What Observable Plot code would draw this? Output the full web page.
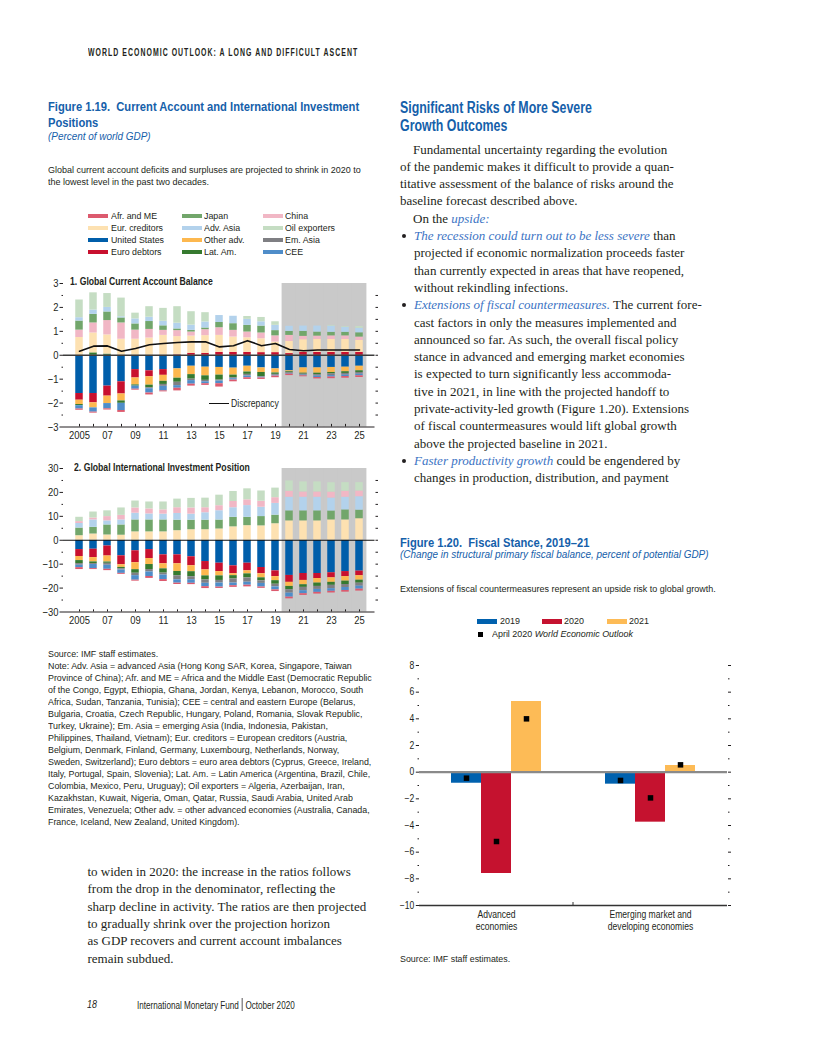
<!DOCTYPE html>
<html><head><meta charset="utf-8">
<script src="https://cdn.jsdelivr.net/npm/d3@7"></script>
<script src="https://cdn.jsdelivr.net/npm/@observablehq/plot@0.6"></script>
<style>
html,body{margin:0;padding:0;background:#fff;}
#page{position:relative;width:816px;height:1056px;overflow:hidden;background:#fff;}
.ln{position:absolute;white-space:nowrap;transform-origin:0 50%;}
.sans{font-family:"Liberation Sans",Arial,sans-serif;color:#231f20;}
.serif{font-family:"Liberation Serif","Times New Roman",serif;font-size:13px;color:#231f20;}
.blue{color:#1560aa;}
.ibl{color:#3c74c4;font-style:italic;}
.bul{position:absolute;left:-12px;top:50%;width:4.2px;height:4.2px;margin-top:-2.3px;border-radius:50%;background:#231f20;}
.sw{position:absolute;height:4px;width:20px;}
.chart{position:absolute;}
</style></head>
<body><div id="page"></div>
<script>
// ---------------- DATA ----------------
const years = [2005,2006,2007,2008,2009,2010,2011,2012,2013,2014,2015,2016,2017,2018,2019,2020,2021,2022,2023,2024,2025];
const projectionYears = [2020,2021,2022,2023,2024,2025];
const labelYears = [2005,2007,2009,2011,2013,2015,2017,2019,2021,2023,2025];

const seriesNames = ["Afr. and ME","Eur. creditors","United States","Euro debtors","Japan","Adv. Asia","Other adv.","Lat. Am.","China","Oil exporters","Em. Asia","CEE"];
const seriesColors = ["#dc5a6e","#fde1b1","#005eaa","#c8102e","#72a66b","#b3d2ec","#fdb84f","#367a2f","#f1b7c5","#c5ddc3","#7f7f83","#4f8dc9"];

// Panel 1: Global current account balance (percent of world GDP)
const caUS          = [-1.60,-1.60,-1.29,-1.11,-0.60,-0.65,-0.60,-0.57,-0.46,-0.50,-0.51,-0.54,-0.46,-0.53,-0.57,-0.65,-0.53,-0.53,-0.51,-0.50,-0.46];
const caEuroDebtors = [-0.28,-0.39,-0.42,-0.51,-0.35,-0.25,-0.24,0.02,0.08,0.08,0.12,0.12,0.12,0.11,0.11,0.07,0.12,0.12,0.12,0.12,0.12];
const caOtherAdv    = [-0.18,-0.21,-0.31,-0.29,-0.29,-0.35,-0.25,-0.39,-0.35,-0.36,-0.32,-0.29,-0.24,-0.19,-0.17,-0.04,-0.22,-0.22,-0.21,-0.19,-0.19];
const caLatAm       = [-0.05,0.10,0.05,-0.10,-0.05,-0.11,-0.13,-0.17,-0.19,-0.19,-0.21,-0.11,-0.10,-0.17,-0.06,-0.04,-0.04,-0.06,-0.06,-0.07,-0.07];
const caEmAsia      = [0,0,0,0,0,-0.04,-0.08,-0.14,-0.06,-0.06,-0.04,-0.04,-0.07,-0.03,-0.04,-0.03,-0.04,-0.06,-0.07,-0.07,-0.07];
const caCEE         = [-0.14,-0.18,-0.22,-0.30,-0.13,-0.18,-0.19,-0.11,-0.15,-0.08,-0.11,-0.06,-0.07,-0.03,-0.03,-0.03,-0.03,-0.06,-0.06,-0.06,-0.07];
const caAfrME       = [-0.05,-0.04,-0.05,-0.08,-0.04,-0.08,-0.04,-0.11,-0.08,-0.07,-0.14,-0.07,-0.07,-0.06,-0.07,-0.06,-0.04,-0.06,-0.07,-0.07,-0.07];
const caEurCreditors= [0.74,0.83,0.80,0.67,0.67,0.72,0.83,0.76,0.72,0.74,0.71,0.64,0.61,0.58,0.44,0.51,0.53,0.54,0.54,0.54,0.50];
const caChina       = [0.31,0.42,0.60,0.68,0.38,0.36,0.21,0.25,0.17,0.25,0.32,0.28,0.24,0.24,0.26,0.25,0.14,0.14,0.15,0.15,0.14];
const caJapan       = [0.38,0.36,0.36,0.21,0.26,0.33,0.19,0.07,0.07,0.07,0.22,0.28,0.28,0.29,0.22,0.17,0.21,0.17,0.15,0.15,0.18];
const caAdvAsia     = [0.14,0.18,0.19,0.05,0.21,0.18,0.19,0.24,0.22,0.25,0.29,0.31,0.25,0.18,0.22,0.21,0.22,0.25,0.26,0.21,0.19];
const caOil         = [0.74,0.72,0.58,0.78,0.24,0.44,0.54,0.69,0.56,0.39,0,0,0.12,0.18,0.15,0,0,0,0.03,0.03,0.07];
const caDiscrepancy = [0.17,0.38,0.39,0.17,0.28,0.44,0.49,0.53,0.56,0.56,0.35,0.40,0.61,0.40,0.49,0.24,0.19,0.22,0.22,0.22,0.22];

// Panel 2: Global international investment position (percent of world GDP)
const iipUS          = [-3.9,-3.75,-2.4,-6.5,-4.4,-3.9,-6.1,-6.1,-6.9,-8.9,-9.6,-10.7,-9.6,-11.4,-12.8,-14.7,-13.9,-13.9,-13.6,-13.1,-12.9];
const iipEuroDebtors = [-2.9,-3.5,-4.2,-3.75,-5.0,-3.75,-3.75,-3.75,-3.75,-3.5,-3.5,-3.3,-3.2,-2.6,-2.4,-2.9,-2.9,-2.1,-2.1,-2.1,-1.9];
const iipOtherAdv    = [-1.7,-1.8,-2.5,-1.1,-2.9,-2.5,-2.1,-3.2,-2.5,-2.5,-1.8,-0.8,-1.25,-1.7,-1.7,-1.7,-1.8,-1.9,-1.9,-1.9,-1.9];
const iipLatAm       = [-1.25,-0.7,-0.55,-0.55,-1.5,-2.1,-1.8,-1.8,-2.1,-1.7,-1.9,-1.4,-1.7,-1.25,-1.5,-1.4,-1.1,-1.4,-1.25,-1.4,-1.25];
const iipEmAsia      = [-0.7,-0.4,-0.8,-0.55,-1.0,-1.0,-0.8,-1.7,-1.25,-1.4,-1.1,-1.7,-1.8,-1.1,-1.1,-1.4,-1.4,-1.25,-1.4,-1.25,-1.25];
const iipCEE         = [-1.0,-1.7,-1.7,-1.4,-1.9,-1.9,-1.9,-1.4,-1.5,-1.4,-1.7,-1.1,-1.25,-1.5,-1.25,-1.7,-1.25,-1.25,-1.1,-1.25,-1.25];
const iipAfrME       = [-0.8,-0.4,-0.55,-0.4,-0.4,-0.8,-0.8,-0.55,-0.55,-0.8,-0.55,-0.7,-0.7,-0.55,-0.7,-0.7,-0.7,-0.7,-0.7,-0.7,-0.8];
const iipEurCreditors= [1.9,2.6,2.2,2.1,3.5,3.5,3.5,4.0,4.4,4.4,4.7,5.6,6.1,6.0,6.9,8.1,8.1,8.1,8.5,8.5,9.0];
const iipJapan       = [3.2,2.8,4.2,4.3,5.0,5.0,5.0,4.4,4.0,4.0,3.75,4.0,3.5,3.9,3.6,4.2,4.2,4.2,3.75,4.2,3.6];
const iipAdvAsia     = [1.9,3.1,1.7,2.1,2.8,2.5,2.4,2.8,2.5,3.1,3.9,4.0,4.9,3.9,4.9,5.7,5.7,5.7,5.4,5.3,5.6];
const iipChina       = [0.8,0.8,1.8,1.9,2.2,2.1,1.8,2.4,2.6,2.1,2.1,2.6,2.4,2.5,2.4,2.5,2.2,2.2,2.5,2.5,2.4];
const iipOil         = [1.8,2.5,2.4,3.1,2.9,2.9,3.3,3.6,4.0,4.0,4.4,4.2,4.6,4.3,4.0,4.3,4.2,4.2,3.9,3.6,3.5];

// Figure 1.20: change in structural primary fiscal balance
const fsCategories = ["Advanced economies","Emerging market and developing economies"];
const fsCategoryLabels = ["Advanced\neconomies","Emerging market and\ndeveloping economies"];
const fsYears = ["2019","2020","2021"];
const fsColors = ["#0061ae","#c5122f","#fdbb56"];
const fsAdvanced = [-0.83,-7.6,5.3];
const fsEmerging = [-0.9,-3.75,0.5];
const weoAdvanced = [-0.45,-5.2,4.0];
const weoEmerging = [-0.62,-1.93,0.55];

// ---------------- BUILD ----------------
const SANS = '"Liberation Sans",Arial,sans-serif';
const page = document.getElementById("page");
const groups = {};
function addLine(html, x, yc, cls, lh, style, group){
  const d = document.createElement("div");
  d.className = "ln " + cls;
  d.style.left = x + "px";
  d.style.top = (yc - lh/2) + "px";
  d.style.lineHeight = lh + "px";
  if (style) d.style.cssText += style;
  d.innerHTML = html;
  page.appendChild(d);
  if (group) (groups[group] = groups[group] || []).push(d);
  return d;
}
// horizontally condense a group of lines so that its reference line has the target width
function fitGroup(name, refIndex, target){
  const els = groups[name]; if (!els) return;
  const w = els[refIndex].offsetWidth;
  const k = target / w;
  els.forEach(e => e.style.transform = `scaleX(${k})`);
}
const fmtNum = d => d < 0 ? "\u2212" + Math.abs(d) : String(d);
function colorOf(name){ return seriesColors[seriesNames.indexOf(name)]; }
function narrowSvgText(svg, k){
  d3.select(svg).selectAll("text").each(function(){
    const t = this.getAttribute("transform");
    if (t) this.setAttribute("transform", t + ` scale(${k},1)`);
    else {
      const x = +this.getAttribute("x") || 0, y = +this.getAttribute("y") || 0;
      this.setAttribute("x", 0); this.setAttribute("y", 0);
      this.setAttribute("transform", `translate(${x},${y}) scale(${k},1)`);
    }
  });
}

// header
addLine("WORLD ECONOMIC OUTLOOK: A LONG AND DIFFICULT ASCENT", 88, 53, "sans", 12, "font-size:10px;font-weight:bold;letter-spacing:1.5px;", "hdr");

// Figure 1.19 title block
addLine("Figure 1.19.&nbsp; Current Account and International Investment", 48, 106, "sans blue", 15, "font-size:13px;font-weight:bold;", "ftitle");
addLine("Positions", 48, 122, "sans blue", 15, "font-size:13px;font-weight:bold;", "ftitle");
addLine("(Percent of world GDP)", 48, 137, "sans blue", 12, "font-size:10.2px;font-style:italic;", "fsub");
addLine("Global current account deficits and surpluses are projected to shrink in 2020 to", 48, 169.5, "sans", 12, "font-size:9.6px;", "body");
addLine("the lowest level in the past two decades.", 48, 181.5, "sans", 12, "font-size:9.6px;", "body");

// legend
const legendCols = [["Afr. and ME","Eur. creditors","United States","Euro debtors"],["Japan","Adv. Asia","Other adv.","Lat. Am."],["China","Oil exporters","Em. Asia","CEE"]];
const legSwX = [88.3,181.7,262.7], legTxX = [110.5,203.5,285], legY = [216,228.2,240.3,252.3];
legendCols.forEach((col,ci)=>col.forEach((name,ri)=>{
  const s = document.createElement("div"); s.className="sw";
  s.style.left = legSwX[ci]+"px"; s.style.top=(legY[ri]-2)+"px"; s.style.background=colorOf(name);
  page.appendChild(s);
  addLine(name, legTxX[ci], legY[ri], "sans", 12, "font-size:9.6px;", "leg");
}));

function tidy(pairs){
  return pairs.flatMap(([name, vals]) => vals.map((v,i)=>({year: years[i], series: name, value: v})));
}
const caData = tidy([["United States",caUS],["Euro debtors",caEuroDebtors],["Other adv.",caOtherAdv],["Lat. Am.",caLatAm],["Em. Asia",caEmAsia],["CEE",caCEE],["Afr. and ME",caAfrME],["Eur. creditors",caEurCreditors],["China",caChina],["Japan",caJapan],["Adv. Asia",caAdvAsia],["Oil exporters",caOil]]);
const caOrder = ["United States","Euro debtors","Other adv.","Lat. Am.","Em. Asia","CEE","Afr. and ME","Eur. creditors","China","Japan","Adv. Asia","Oil exporters"];
const iipData = tidy([["United States",iipUS],["Euro debtors",iipEuroDebtors],["Other adv.",iipOtherAdv],["Lat. Am.",iipLatAm],["Em. Asia",iipEmAsia],["CEE",iipCEE],["Afr. and ME",iipAfrME],["Eur. creditors",iipEurCreditors],["Japan",iipJapan],["Adv. Asia",iipAdvAsia],["China",iipChina],["Oil exporters",iipOil]]);
const iipOrder = ["United States","Euro debtors","Other adv.","Lat. Am.","Em. Asia","CEE","Afr. and ME","Eur. creditors","Japan","Adv. Asia","China","Oil exporters"];
const discData = years.map((y,i)=>({year:y, value: caDiscrepancy[i]}));
const yearFmt = y => y === 2005 ? "2005" : String(y).slice(2);
const blank = () => "";

function panel({data, order, lo, hi, major, minorLeft, minorRight, zeroStroke, zeroWidth, tickUp, extra}){
  return Plot.plot({
    width: 345, height: 175,
    marginLeft: 23, marginRight: 10.5, marginTop: 7, marginBottom: 24.5,
    style: {fontFamily: SANS, fontSize: "11px", background: "transparent", overflow: "visible", color: "#231f20"},
    x: {type: "band", domain: years, padding: 0, axis: null, label: null},
    y: {domain: [lo, hi], axis: null, label: null},
    color: {domain: seriesNames, range: seriesColors},
    marks: [
      Plot.barY(projectionYears, {x: d=>d, y1: lo, y2: hi, fill: "#c9c9c9", insetLeft: -0.4, insetRight: -0.4}),
      Plot.barY(data, Plot.stackY({order}, {x: "year", y: "value", fill: "series", insetLeft: 3.25, insetRight: 3.25})),
      Plot.ruleY([0], {stroke: zeroStroke, strokeWidth: zeroWidth}),
      ...(extra || []),
      Plot.ruleY([lo], {stroke: "#231f20", strokeWidth: 1}),
      Plot.ruleX(years, {x: d=>d, y1: lo, y2: lo + tickUp, stroke: "#231f20"}),
      Plot.axisX({ticks: labelYears, tickSize: 0, tickPadding: 3.5, tickFormat: yearFmt, fontSize: 11.5, label: null}),
      Plot.axisY({ticks: major, tickSize: 3.5, tickPadding: 1.5, tickFormat: fmtNum, fontSize: 11.5, label: null}),
      Plot.axisY({ticks: minorLeft, tickSize: 1.5, tickFormat: blank, label: null}),
      Plot.axisY({ticks: minorRight, anchor: "right", tickSize: 2.5, tickFormat: blank, label: null})
    ]
  });
}

const ca = panel({
  data: caData, order: caOrder, lo: -3, hi: 3,
  major: [-3,-2,-1,0,1,2,3], minorLeft: [-2.5,-1.5,-0.5,0.5,1.5,2.5],
  minorRight: [-2.5,-2,-1.5,-1,-0.5,0,0.5,1,1.5,2,2.5],
  zeroStroke: "#3c3c3c", zeroWidth: 1.6, tickUp: 0.11,
  extra: [Plot.line(discData, {x: "year", y: "value", stroke: "#111", strokeWidth: 1.6})]
});
narrowSvgText(ca, 0.82);
const c1 = document.createElement("div"); c1.className="chart"; c1.style.left="40px"; c1.style.top="276px"; c1.appendChild(ca); page.appendChild(c1);

const iip = panel({
  data: iipData, order: iipOrder, lo: -30, hi: 30,
  major: [-30,-20,-10,0,10,20,30], minorLeft: [-25,-15,-5,5,15,25],
  minorRight: [-25,-20,-15,-10,-5,0,5,10,15,20,25],
  zeroStroke: "#111", zeroWidth: 1.1, tickUp: 0.9
});
narrowSvgText(iip, 0.82);
const c2 = document.createElement("div"); c2.className="chart"; c2.style.left="40px"; c2.style.top="461.3px"; c2.appendChild(iip); page.appendChild(c2);

// panel titles and discrepancy legend
addLine("1. Global Current Account Balance", 70, 282.3, "sans", 12, "font-size:10px;font-weight:bold;", "ptitle");
addLine("2. Global International Investment Position", 74, 468.3, "sans", 12, "font-size:10px;font-weight:bold;", "ptitle");
const dl = document.createElement("div"); dl.style.cssText="position:absolute;left:209px;top:402.5px;width:20px;height:1.6px;background:#111;"; page.appendChild(dl);
addLine("Discrepancy", 231, 403.3, "sans", 12, "font-size:10.5px;", "disc");

// notes
const noteLines = [
"Source: IMF staff estimates.",
"Note: Adv. Asia = advanced Asia (Hong Kong SAR, Korea, Singapore, Taiwan",
"Province of China); Afr. and ME = Africa and the Middle East (Democratic Republic",
"of the Congo, Egypt, Ethiopia, Ghana, Jordan, Kenya, Lebanon, Morocco, South",
"Africa, Sudan, Tanzania, Tunisia); CEE = central and eastern Europe (Belarus,",
"Bulgaria, Croatia, Czech Republic, Hungary, Poland, Romania, Slovak Republic,",
"Turkey, Ukraine); Em. Asia = emerging Asia (India, Indonesia, Pakistan,",
"Philippines, Thailand, Vietnam); Eur. creditors = European creditors (Austria,",
"Belgium, Denmark, Finland, Germany, Luxembourg, Netherlands, Norway,",
"Sweden, Switzerland); Euro debtors = euro area debtors (Cyprus, Greece, Ireland,",
"Italy, Portugal, Spain, Slovenia); Lat. Am. = Latin America (Argentina, Brazil, Chile,",
"Colombia, Mexico, Peru, Uruguay); Oil exporters = Algeria, Azerbaijan, Iran,",
"Kazakhstan, Kuwait, Nigeria, Oman, Qatar, Russia, Saudi Arabia, United Arab",
"Emirates, Venezuela; Other adv. = other advanced economies (Australia, Canada,",
"France, Iceland, New Zealand, United Kingdom)."];
noteLines.forEach((t,i)=>addLine(t, 48, 654 + i*11.99, "sans", 12, "font-size:9.3px;", "note"));

// bottom-left body text
const leftBody = [
"to widen in 2020: the increase in the ratios follows",
"from the drop in the denominator, reflecting the",
"sharp decline in activity. The ratios are then projected",
"to gradually shrink over the projection horizon",
"as GDP recovers and current account imbalances",
"remain subdued."];
leftBody.forEach((t,i)=>addLine(t, 87.5, 872 + i*17.35, "serif", 16));

// footer
addLine("18", 87, 1004, "sans", 12, "font-size:10.5px;font-style:italic;transform:scaleX(0.85);");
addLine('International Monetary Fund <span style="display:inline-block;width:1.8px;height:13px;background:#231f20;vertical-align:-2.5px;margin:0 0.5px;"></span> October 2020', 136.5, 1004, "sans", 12, "font-size:10.8px;", "foot");

// right column
addLine("Significant Risks of More Severe", 400, 108, "sans blue", 18, "font-size:15.8px;font-weight:bold;", "head");
addLine("Growth Outcomes", 400, 125.5, "sans blue", 18, "font-size:15.8px;font-weight:bold;", "head");
const B = '<span class="bul"></span>';
const rightBody = [
 [413, "Fundamental uncertainty regarding the evolution"],
 [400, "of the pandemic makes it difficult to provide a quan-"],
 [400, "titative assessment of the balance of risks around the"],
 [400, "baseline forecast described above."],
 [413, 'On the <span class="ibl">upside:</span>'],
 [414, B + '<span class="ibl">The recession could turn out to be less severe</span> than'],
 [414, "projected if economic normalization proceeds faster"],
 [414, "than currently expected in areas that have reopened,"],
 [414, "without rekindling infections."],
 [414, B + '<span class="ibl">Extensions of fiscal countermeasures.</span> The current fore-'],
 [414, "cast factors in only the measures implemented and"],
 [414, "announced so far. As such, the overall fiscal policy"],
 [414, "stance in advanced and emerging market economies"],
 [414, "is expected to turn significantly less accommoda-"],
 [414, "tive in 2021, in line with the projected handoff to"],
 [414, "private-activity-led growth (Figure 1.20). Extensions"],
 [414, "of fiscal countermeasures would lift global growth"],
 [414, "above the projected baseline in 2021."],
 [414, B + '<span class="ibl">Faster productivity growth</span> could be engendered by'],
 [414, "changes in production, distribution, and payment"]];
rightBody.forEach(([x,t],i)=>addLine(t, x, 149.5 + i*17.3, "serif", 16));

// Figure 1.20 text
addLine("Figure 1.20.&nbsp; Fiscal Stance, 2019&#8211;21", 400, 543, "sans blue", 14, "font-size:13px;font-weight:bold;", "ftitle");
addLine("(Change in structural primary fiscal balance, percent of potential GDP)", 400, 554.5, "sans blue", 12, "font-size:10.2px;font-style:italic;", "fsub");
addLine("Extensions of fiscal countermeasures represent an upside risk to global growth.", 400, 588.5, "sans", 12, "font-size:9.6px;", "body");
// legend 1.20
const fsLegSw = [477,542,607], fsLegTx = [499.5,563.5,628.5];
fsYears.forEach((y,i)=>{
  const s=document.createElement("div"); s.className="sw"; s.style.left=fsLegSw[i]+"px"; s.style.top="619px"; s.style.height="4.5px"; s.style.background=fsColors[i]; page.appendChild(s);
  addLine(y, fsLegTx[i], 621.3, "sans", 12, "font-size:9.9px;", "fleg");
});
const sq=document.createElement("div"); sq.style.cssText="position:absolute;left:478px;top:631.5px;width:5.3px;height:5.3px;background:#000;"; page.appendChild(sq);
addLine('April 2020 <i>World Economic Outlook</i>', 492, 634.3, "sans", 12, "font-size:9.9px;", "fleg");
addLine("Source: IMF staff estimates.", 400, 958.5, "sans", 12, "font-size:9.3px;", "note");

// condense sans text to the reference widths
fitGroup("hdr", 0, 270);
fitGroup("ftitle", 0, 311);
fitGroup("fsub", 1, 309);
fitGroup("body", 0, 313);
fitGroup("leg", 0, 46);
fitGroup("note", 2, 324);
fitGroup("ptitle", 0, 143);
fitGroup("disc", 0, 48);
fitGroup("head", 0, 192);
fitGroup("foot", 0, 157.5);
fitGroup("fleg", 3, 141);

// Figure 1.20 chart
const fsData = fsCategories.flatMap((c,ci)=>fsYears.map((y,yi)=>({cat:c, year:y, value:(ci===0?fsAdvanced:fsEmerging)[yi]})));
const weoData = fsCategories.flatMap((c,ci)=>fsYears.map((y,yi)=>({cat:c, year:y, value:(ci===0?weoAdvanced:weoEmerging)[yi]})));
const fs = Plot.plot({
  width: 345, height: 290,
  marginLeft: 28, marginRight: 8, marginTop: 15, marginBottom: 35,
  style: {fontFamily: SANS, fontSize: "10px", background: "transparent", overflow: "visible", color: "#231f20"},
  fx: {domain: fsCategories, padding: 0, label: null, axis: null},
  x: {domain: fsYears, paddingInner: 0, paddingOuter: 1.03, axis: null, label: null},
  y: {domain: [-10, 8], axis: null, label: null},
  color: {domain: fsYears, range: fsColors},
  marks: [
    Plot.barY(fsData, {fx: "cat", x: "year", y: "value", fill: "year"}),
    Plot.ruleY([0], {stroke: "#8a8a8a", strokeWidth: 2.2}),
    Plot.dot(weoData, {fx: "cat", x: "year", y: "value", symbol: "square", r: 3.1, fill: "#000", stroke: null}),
    Plot.ruleY([-10], {stroke: "#333", strokeWidth: 1.4}),
    Plot.axisFx({anchor: "bottom", tickSize: 0, tickPadding: 4, label: null, lineHeight: 1.2, fontSize: 10,
                 tickFormat: c => fsCategoryLabels[fsCategories.indexOf(c)]}),
    Plot.axisY({ticks: [-10,-8,-6,-4,-2,0,2,4,6,8], tickSize: 3.2, tickPadding: 2, tickFormat: fmtNum, fontSize: 10, label: null}),
    Plot.axisY({ticks: [-9,-7,-5,-3,-1,1,3,5,7], tickSize: 1.5, tickFormat: blank, label: null}),
    Plot.axisY({ticks: [-10,-8,-6,-4,-2,0,2,4,6,8], anchor: "right", tickSize: 3, tickFormat: blank, label: null}),
    Plot.axisY({ticks: [-9,-7,-5,-3,-1,1,3,5,7], anchor: "right", tickSize: 1.5, tickFormat: blank, label: null})
  ]
});
narrowSvgText(fs, 0.86);
const c3 = document.createElement("div"); c3.className="chart"; c3.style.left="390px"; c3.style.top="650px"; c3.appendChild(fs); page.appendChild(c3);
// separator tick between the two groups, placed with the fx scale
try {
  const fxs = fs.scale("fx"), ys = fs.scale("y");
  const bx = fxs.apply(fsCategories[1]);
  d3.select(fs).append("line").attr("x1", bx).attr("x2", bx)
    .attr("y1", ys.apply(-10)).attr("y2", ys.apply(-10) - 3).attr("stroke", "#333");
} catch(e) {}
</script>
</body></html>
